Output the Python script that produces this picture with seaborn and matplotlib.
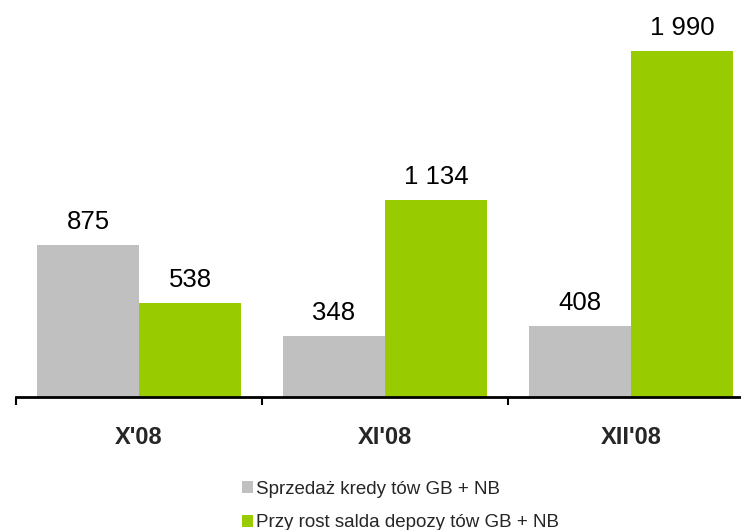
import matplotlib
matplotlib.use("Agg")
import matplotlib.pyplot as plt
import seaborn as sns
import pandas as pd

categories = ["X'08", "XI'08", "XII'08"]
series_names = ["Sprzedaż kredy tów GB + NB", "Przy rost salda depozy tów GB + NB"]
loans = [875, 348, 408]
deposits = [538, 1134, 1990]
value_labels_loans = ["875", "348", "408"]
value_labels_deposits = ["538", "1 134", "1 990"]
colors = ["#C0C0C0", "#99CC00"]

df = pd.DataFrame({
    "month": categories * 2,
    "series": [series_names[0]] * 3 + [series_names[1]] * 3,
    "value": loans + deposits,
})

sns.set_theme(style="white")
plt.rcParams["font.family"] = ["Liberation Sans", "DejaVu Sans"]

fig = plt.figure(figsize=(7.41, 5.30), dpi=100)
ax = fig.add_axes([16 / 741, (530 - 397) / 530, 725 / 741, 397 / 530])

sns.barplot(data=df, x="month", y="value", hue="series", order=categories,
            hue_order=series_names, palette=colors, width=0.83, saturation=1,
            ax=ax, linewidth=0, errorbar=None)

labels = [value_labels_loans, value_labels_deposits]
for cont, labs in zip(ax.containers, labels):
    for bar, lab in zip(cont, labs):
        ax.annotate(lab, (bar.get_x() + bar.get_width() / 2, bar.get_height()),
                    xytext=(0, 8), textcoords="offset points", ha="center",
                    va="bottom", fontsize=18.5, color="black")

handles, labs = ax.get_legend_handles_labels()
ax.get_legend().remove()

for s in ["top", "right", "left"]:
    ax.spines[s].set_visible(False)
ax.spines["bottom"].set_color("black")
ax.spines["bottom"].set_linewidth(2)
ax.set_yticks([])
ax.set_xlabel("")
ax.set_ylabel("")

ax.set_xticks([-0.5, 0.5, 1.5, 2.5])
ax.set_xticklabels([])
ax.tick_params(axis="x", which="major", direction="out", length=6, width=1.5,
               color="black", bottom=True)
ax.set_xticks([0, 1, 2], minor=True)
ax.set_xticklabels(categories, minor=True, fontsize=17, fontweight="bold")
ax.tick_params(axis="x", which="minor", length=0, pad=21)

ax.set_xlim(-0.5, -0.5 + 725 / 246)
ax.set_ylim(0, 2282)

fig.legend(handles, labs, loc="upper left", bbox_to_anchor=(234 / 741, 1 - 473 / 530),
           frameon=False, fontsize=13.5, handlelength=0.6, handleheight=0.6,
           handletextpad=0.15, labelspacing=0.9, borderaxespad=0)

fig.savefig("out.png", dpi=100)
